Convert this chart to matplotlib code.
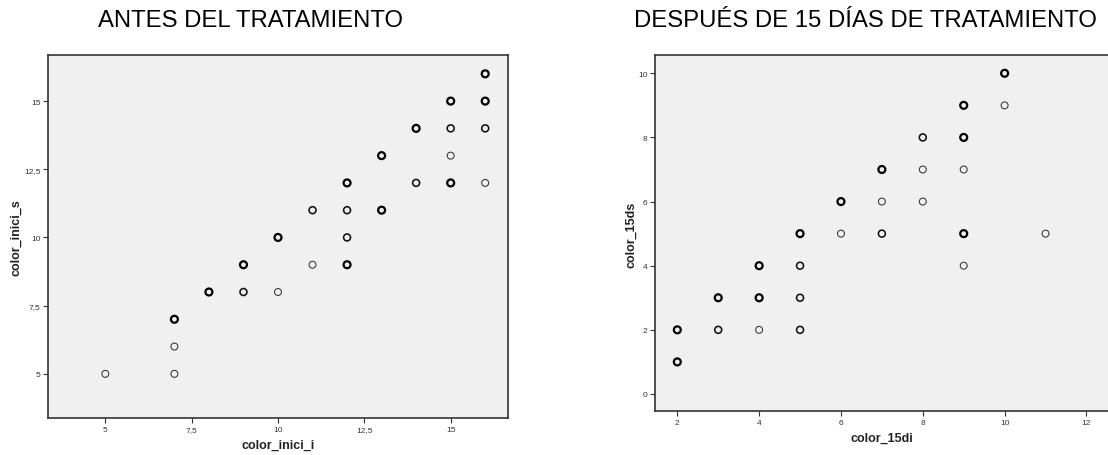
import matplotlib
matplotlib.use("Agg")
import matplotlib.pyplot as plt
from matplotlib.ticker import FuncFormatter, FixedLocator

# ---- data (left: before treatment) ----
left_x = [5, 7, 7, 7, 8, 9, 9, 10, 10, 11, 11, 12, 12, 12, 12, 13, 13, 14, 14, 15, 15, 15, 15, 16, 16, 16, 16]
left_y = [5, 5, 6, 7, 8, 8, 9, 8, 10, 9, 11, 9, 10, 11, 12, 11, 13, 12, 14, 12, 13, 14, 15, 12, 14, 15, 16]
left_n = [1, 1, 1, 3, 3, 2, 3, 1, 3, 1, 2, 3, 2, 2, 3, 3, 3, 2, 3, 3, 1, 2, 3, 1, 2, 3, 3]

# ---- data (right: after 15 days) ----
right_x = [2, 2, 3, 3, 4, 4, 4, 5, 5, 5, 5, 6, 6, 7, 7, 7, 8, 8, 8, 9, 9, 9, 9, 9, 10, 10, 11]
right_y = [1, 2, 2, 3, 2, 3, 4, 2, 3, 4, 5, 5, 6, 5, 6, 7, 6, 7, 8, 4, 5, 7, 8, 9, 9, 10, 5]
right_n = [3, 3, 2, 3, 1, 3, 3, 2, 2, 2, 3, 1, 3, 2, 1, 3, 1, 1, 2, 1, 3, 1, 3, 3, 1, 3, 1]

left_ticks = [5, 7.5, 10, 12.5, 15]
right_xticks = [2, 4, 6, 8, 10, 12]
right_yticks = [0, 2, 4, 6, 8, 10]

titles = ["ANTES DEL TRATAMIENTO", "DESPUÉS DE 15 DÍAS DE TRATAMIENTO"]
xlabels = ["color_inici_i", "color_15di"]
ylabels = ["color_inici_s", "color_15ds"]

plt.rcParams['font.family'] = ['Liberation Sans', 'DejaVu Sans']

W, H = 1108, 456
fig = plt.figure(figsize=(W / 100, H / 100), dpi=100)
fig.patch.set_facecolor('white')

def fx(px):
    return px / W

def fy(py):
    return 1 - py / H

ax1 = fig.add_axes([fx(48), fy(419), fx(508) - fx(48), fy(56) - fy(419)])
ax2 = fig.add_axes([fx(655), fy(412.3), fx(1111) - fx(655), fy(56) - fy(412.3)])

lw_map = {1: 0.75, 2: 1.15, 3: 1.6}
col_map = {1: '#333333', 2: '#111111', 3: '#000000'}

comma = FuncFormatter(lambda v, p: (f"{v:g}").replace('.', ','))

def style(ax, xs, ys, ns, xticks, yticks, xlim, ylim):
    ax.set_facecolor('#f0f0f0')
    for level in (1, 2, 3):
        px = [x for x, n in zip(xs, ns) if n == level]
        py = [y for y, n in zip(ys, ns) if n == level]
        ax.scatter(px, py, s=25, facecolors='none', edgecolors=col_map[level],
                   linewidths=lw_map[level], zorder=3)
    ax.set_xlim(*xlim)
    ax.set_ylim(*ylim)
    ax.xaxis.set_major_locator(FixedLocator(xticks))
    ax.yaxis.set_major_locator(FixedLocator(yticks))
    ax.xaxis.set_major_formatter(comma)
    ax.yaxis.set_major_formatter(comma)
    for s in ax.spines.values():
        s.set_color('#333333')
        s.set_linewidth(1.2)
    ax.tick_params(axis='both', length=3.5, width=0.8, color='#333333',
                   labelsize=6, labelcolor='#333333', pad=2)

style(ax1, left_x, left_y, left_n, left_ticks, left_ticks, (3.34, 16.66), (3.38, 16.69))
style(ax2, right_x, right_y, right_n, right_xticks, right_yticks, (1.455, 12.6), (-0.54, 10.57))

# titles
fig.text(fx(251), fy(27), titles[0], ha='center', va='baseline', fontsize=17.2, color='black')
fig.text(fx(865.5), fy(27), titles[1], ha='center', va='baseline', fontsize=17.2, color='black')

# axis labels
fig.text(fx(278), fy(449), xlabels[0], ha='center', va='baseline', fontsize=9, fontweight='bold', color='#222222')
fig.text(fx(16), fy(238), ylabels[0], ha='center', va='center', rotation=90, fontsize=9, fontweight='bold', color='#222222')
fig.text(fx(882), fy(442), xlabels[1], ha='center', va='baseline', fontsize=9, fontweight='bold', color='#222222')
fig.text(fx(631), fy(235), ylabels[1], ha='center', va='center', rotation=90, fontsize=9, fontweight='bold', color='#222222')

fig.savefig('out.png', dpi=100)
